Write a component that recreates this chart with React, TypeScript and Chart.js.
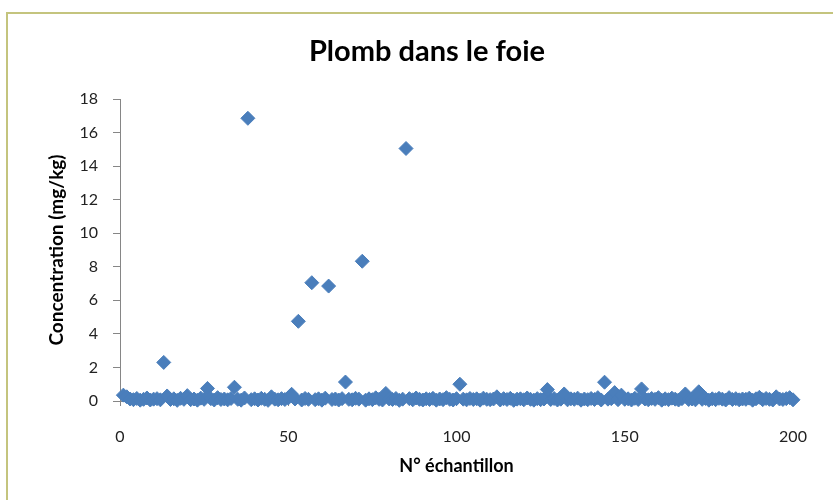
import React, { useEffect, useRef } from 'react';
import { Chart, registerables } from 'chart.js';

Chart.register(...registerables);

const chartTitle = 'Plomb dans le foie';
const xAxisTitle = 'N° échantillon';
const yAxisTitle = 'Concentration (mg/kg)';
const xTickValues = [0, 50, 100, 150, 200];
const yTickValues = [0, 2, 4, 6, 8, 10, 12, 14, 16, 18];

// Concentration of each sample, sample n° 1 .. 203 (mg/kg)
const concentrations = [
  0.35, 0.25, 0.12, 0.08, 0.15, 0.05, 0.1, 0.18, 0.06, 0.11,
  0.14, 0.07, 2.3, 0.3, 0.09, 0.13, 0.04, 0.16, 0.1, 0.32,
  0.08, 0.12, 0.05, 0.17, 0.1, 0.75, 0.14, 0.06, 0.2, 0.09,
  0.12, 0.07, 0.15, 0.82, 0.1, 0.05, 0.18, 16.85, 0.08, 0.13,
  0.06, 0.16, 0.1, 0.04, 0.25, 0.11, 0.07, 0.14, 0.09, 0.18,
  0.4, 0.12, 4.75, 0.06, 0.15, 0.1, 7.05, 0.08, 0.13, 0.05,
  0.17, 6.85, 0.09, 0.12, 0.06, 0.14, 1.13, 0.1, 0.07, 0.16,
  0.11, 8.33, 0.05, 0.13, 0.08, 0.19, 0.1, 0.06, 0.45, 0.12,
  0.09, 0.15, 0.04, 0.11, 15.05, 0.14, 0.07, 0.18, 0.1, 0.06,
  0.13, 0.09, 0.16, 0.05, 0.12, 0.08, 0.2, 0.1, 0.06, 0.14,
  1.0, 0.11, 0.07, 0.15, 0.09, 0.13, 0.05, 0.17, 0.1, 0.08,
  0.12, 0.25, 0.06, 0.14, 0.09, 0.16, 0.04, 0.11, 0.13, 0.07,
  0.18, 0.1, 0.05, 0.14, 0.08, 0.12, 0.68, 0.09, 0.15, 0.06,
  0.11, 0.42, 0.07, 0.13, 0.1, 0.17, 0.05, 0.12, 0.08, 0.15,
  0.09, 0.2, 0.06, 1.12, 0.11, 0.14, 0.5, 0.08, 0.35, 0.1,
  0.13, 0.06, 0.16, 0.09, 0.72, 0.12, 0.07, 0.15, 0.1, 0.2,
  0.05, 0.13, 0.08, 0.17, 0.11, 0.06, 0.14, 0.42, 0.09, 0.12,
  0.07, 0.55, 0.1, 0.15, 0.05, 0.13, 0.08, 0.16, 0.11, 0.06,
  0.2, 0.09, 0.14, 0.07, 0.12, 0.1, 0.17, 0.05, 0.13, 0.22,
  0.08, 0.15, 0.1, 0.06, 0.25, 0.12, 0.09, 0.14, 0.2, 0.07,
  0.11, 0.13, 0.08,
];

const sampleNumbers = concentrations.map((_, i) => i + 1);

const FONT = 'Lato, "Open Sans", sans-serif';
const AXIS_GREY = '#868686';
const MARKER = '#4a7ebb';
const PAD_LEFT = 21;

export default function App() {
  const canvasRef = useRef<HTMLCanvasElement>(null);

  useEffect(() => {
    document.body.style.margin = '0';
    document.body.style.overflow = 'hidden';
    const canvas = canvasRef.current;
    if (!canvas) return;
    const chart = new Chart(canvas, {
      type: 'scatter',
      data: {
        datasets: [
          {
            data: sampleNumbers.map((x, i) => ({ x, y: concentrations[i] })),
            pointStyle: 'rectRot',
            pointRadius: 7,
            borderWidth: 1,
            backgroundColor: MARKER,
            borderColor: MARKER,
            clip: false as any,
          },
        ],
      },
      options: {
        animation: false,
        responsive: false,
        events: [],
        layout: { padding: { left: PAD_LEFT, right: 0, top: 0, bottom: 0 } },
        plugins: {
          legend: { display: false },
          tooltip: { enabled: false },
          title: {
            display: true,
            text: chartTitle,
            color: '#000',
            font: { family: FONT, size: 29, weight: 'bold', lineHeight: 1.2 },
            padding: { top: 34.6, bottom: 29.6 },
          },
        },
        scales: {
          x: {
            type: 'linear',
            min: 0,
            max: 200,
            afterBuildTicks: (s: any) => {
              s.ticks = xTickValues.map((v) => ({ value: v }));
            },
            afterFit: (s: any) => {
              s.height = 99;
            },
            grid: {
              display: true,
              drawOnChartArea: false,
              drawTicks: true,
              tickLength: 5,
              color: AXIS_GREY,
            },
            border: { display: true, color: AXIS_GREY },
            ticks: {
              padding: 21,
              color: '#222',
              font: { family: FONT, size: 16 },
              maxRotation: 0,
            },
            title: {
              display: true,
              text: xAxisTitle,
              color: '#000',
              font: { family: FONT, size: 18, weight: 'bold', lineHeight: 1.2 },
              padding: { top: 0, bottom: 23.2 },
            },
          },
          y: {
            type: 'linear',
            min: 0,
            max: 18,
            afterBuildTicks: (s: any) => {
              s.ticks = yTickValues.map((v) => ({ value: v }));
            },
            afterFit: (s: any) => {
              s.width = 120 - PAD_LEFT;
            },
            grid: {
              display: true,
              drawOnChartArea: false,
              drawTicks: true,
              tickLength: 7,
              color: AXIS_GREY,
            },
            border: { display: true, color: AXIS_GREY },
            ticks: {
              padding: 15,
              color: '#222',
              font: { family: FONT, size: 16 },
            },
            title: {
              display: true,
              text: yAxisTitle,
              color: '#000',
              font: { family: FONT, size: 19, weight: 'bold', lineHeight: 1.2 },
              padding: { top: 57 - PAD_LEFT - 11.4, bottom: 0 },
            },
          },
          spacer: {
            type: 'linear',
            position: 'right',
            display: true,
            min: 0,
            max: 1,
            afterFit: (s: any) => {
              s.width = 40;
            },
            grid: { display: false },
            border: { display: false },
            ticks: { display: false },
          },
        },
      },
    });
    return () => chart.destroy();
  }, []);

  return (
    <div style={{ position: 'relative', width: 833, height: 500, background: '#fff', overflow: 'hidden' }}>
      <canvas ref={canvasRef} width={833} height={500} style={{ display: 'block' }} />
      <div
        style={{
          position: 'absolute',
          left: 6,
          top: 12,
          width: 840,
          height: 500,
          borderLeft: '2px solid #c4c47e',
          borderTop: '2px solid #c4c47e',
          pointerEvents: 'none',
        }}
      />
    </div>
  );
}
